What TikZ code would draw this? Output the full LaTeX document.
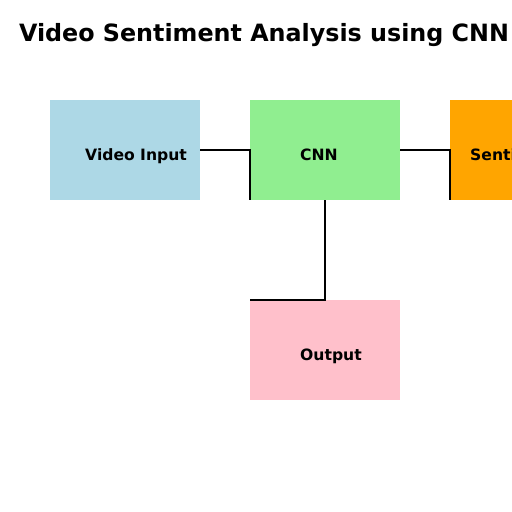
\documentclass[tikz,border=0pt]{standalone}
\usepackage{fontspec}
\setmainfont{DejaVu Sans}
\usetikzlibrary{positioning}

\definecolor{boxblue}{RGB}{173,216,230}
\definecolor{boxgreen}{RGB}{144,238,144}
\definecolor{boxorange}{RGB}{255,165,0}
\definecolor{boxpink}{RGB}{255,192,203}

\begin{document}
\begin{tikzpicture}[x=1pt,y=-1pt]
	\tikzstyle{block} = [rectangle, draw=none, minimum width=150pt, minimum height=100pt, inner sep=0pt, anchor=north west]
	\tikzstyle{blocklabel} = [anchor=base west, inner sep=0pt, font=\bfseries\fontsize{15.6}{18}\selectfont]
	\tikzstyle{link} = [draw, black, line width=1.5pt]
	\useasboundingbox (0,0) rectangle (512,512);
	\clip (0,0) rectangle (512,512);
	\node[anchor=base, inner sep=0pt, font=\bfseries\fontsize{23.8}{28}\selectfont] (title) at (264,41) {Video Sentiment Analysis using CNN};
	\node[block, fill=boxblue] (vin) at (50,100) {};
	\node[block, fill=boxgreen] (cnn) at (250,100) {};
	\node[block, fill=boxorange] (sent) at (450,100) {};
	\node[block, fill=boxpink] (out) at (250,300) {};
	\node[blocklabel] (vinlabel) at (85,160.5) {Video Input};
	\node[blocklabel] (cnnlabel) at (300,160.5) {CNN};
	\node[blocklabel] (sentlabel) at (470,160.5) {Sentiment};
	\node[blocklabel] (outlabel) at (300,360.5) {Output};
	\path[link] (vin.east) -| (cnn.south west);
	\path[link] (cnn.east) -| (sent.south west);
	\path[link] (cnn.south) |- (out.north west);
\end{tikzpicture}
\end{document}
